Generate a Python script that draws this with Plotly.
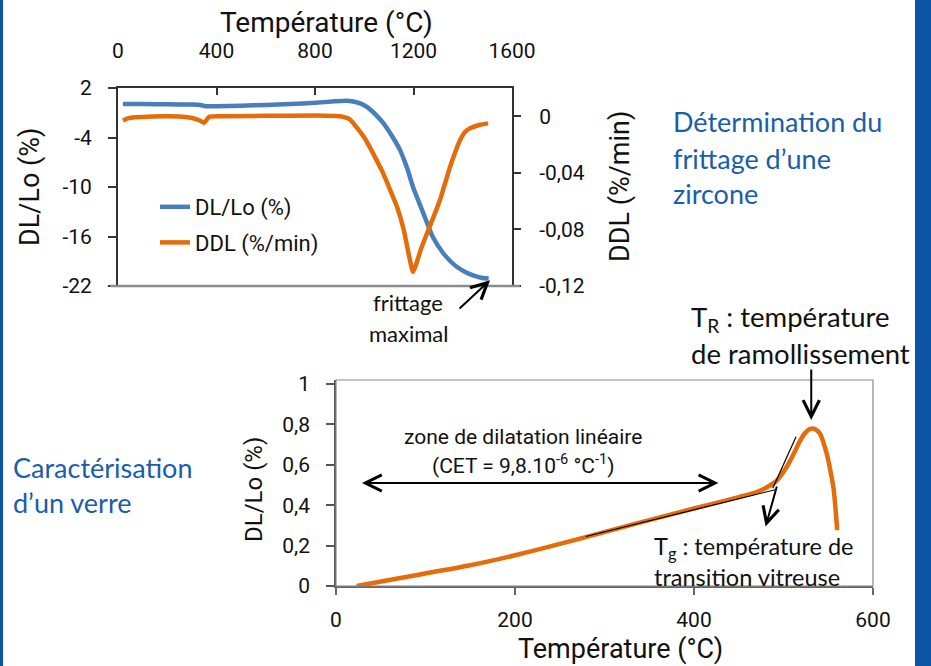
import plotly.graph_objects as go

W, H = 931, 666

# ---------------- data : top chart (zircone sintering) ----------------
temp_dl = [20, 100, 200, 300, 335, 350, 365, 400, 500, 600, 700, 800, 880, 930, 965,
           1000, 1030, 1055, 1076, 1110, 1145, 1175, 1198, 1239, 1279, 1320, 1350,
           1377, 1410, 1442, 1475, 1505]
dl_lo = [0.05, 0.05, 0.02, 0.0, -0.05, -0.18, -0.22, -0.2, -0.15, -0.05, 0.05, 0.2,
         0.38, 0.45, 0.3, -0.1, -0.75, -1.5, -2.2, -3.7, -5.5, -7.8, -10.0, -13.1, -16.1,
         -18.0, -19.0, -19.7, -20.3, -20.7, -21.0, -21.1]

temp_ddl = [20, 40, 70, 120, 200, 260, 300, 330, 350, 358, 370, 450, 600, 800, 900,
            940, 970, 1000, 1023, 1050, 1076, 1105, 1133, 1160, 1180, 1198, 1212,
            1230, 1259, 1308, 1348, 1389, 1410, 1430, 1470, 1503]
ddl = [-0.003, -0.0015, -0.0007, -0.0003, 0.0, -0.0003, -0.0012, -0.0028, -0.0045,
       -0.003, -0.0003, 0.0, 0.0003, 0.0005, 0.0, -0.002, -0.008, -0.015, -0.022,
       -0.031, -0.040, -0.052, -0.064, -0.080, -0.097, -0.110, -0.104, -0.094,
       -0.081, -0.059, -0.036, -0.017, -0.011, -0.0085, -0.006, -0.005]

top_x_ticks = [0, 400, 800, 1200, 1600]
top_x_labels = ["0", "400", "800", "1200", "1600"]
left_y_ticks = [-22, -16, -10, -4, 2]
left_y_labels = ["-22", "-16", "-10", "-4", "2"]
right_y_ticks = [-0.12, -0.08, -0.04, 0]
right_y_labels = ["-0,12", "-0,08", "-0,04", "0"]

# ---------------- data : bottom chart (glass) ----------------
temp_glass = [23, 72, 147, 200, 279, 336, 401, 450, 470, 482, 492, 500, 506, 512,
              518, 524, 530, 536, 541, 548, 552, 556, 560]
dl_glass = [0.0, 0.04, 0.1, 0.152, 0.242, 0.31, 0.385, 0.44, 0.465, 0.49, 0.52,
            0.565, 0.608, 0.66, 0.715, 0.757, 0.778, 0.775, 0.752, 0.66, 0.58,
            0.48, 0.277]
tangent_lin_t = [279, 492]
tangent_lin_v = [0.245, 0.478]
tangent_tg_t = [488, 514]
tangent_tg_v = [0.484, 0.739]

bot_x_ticks = [0, 200, 400, 600]
bot_x_labels = ["0", "200", "400", "600"]
bot_y_ticks = [0, 0.2, 0.4, 0.6, 0.8, 1]
bot_y_labels = ["0", "0,2", "0,4", "0,6", "0,8", "1"]

BLUE = "#4A7EBB"
ORANGE = "#E46C0A"
TXT_BLUE = "#1A5DAA"
DIN = "Roboto"
CAL = "Lato"


def px(x):
    return x / W


def py(y):
    return 1 - y / H


fig = go.Figure()
fig.add_trace(go.Scatter(x=temp_dl, y=dl_lo, name="DL/Lo (%)", mode="lines",
                         line=dict(color=BLUE, width=4.5, shape="spline", smoothing=0.6),
                         xaxis="x", yaxis="y", legendgroup="a"))
fig.add_trace(go.Scatter(x=temp_ddl, y=ddl, name="DDL (%/min)", mode="lines",
                         line=dict(color=ORANGE, width=4.5, shape="spline", smoothing=0.5),
                         xaxis="x", yaxis="y2", legendgroup="b"))
fig.add_trace(go.Scatter(x=temp_glass, y=dl_glass, mode="lines", showlegend=False,
                         line=dict(color=ORANGE, width=4.5, shape="spline", smoothing=0.7),
                         xaxis="x2", yaxis="y3"))
fig.add_trace(go.Scatter(x=tangent_lin_t, y=tangent_lin_v, mode="lines", showlegend=False,
                         line=dict(color="black", width=1.2), xaxis="x2", yaxis="y3"))
fig.add_trace(go.Scatter(x=tangent_tg_t, y=tangent_tg_v, mode="lines", showlegend=False,
                         line=dict(color="black", width=1.2), xaxis="x2", yaxis="y3"))

tickfont = dict(family=DIN, size=21, color="#111")

fig.update_layout(
    width=W, height=H, autosize=False,
    margin=dict(l=0, r=0, t=0, b=0, pad=0, autoexpand=False),
    paper_bgcolor="white", plot_bgcolor="rgba(0,0,0,0)",
    showlegend=True,
    legend=dict(x=px(155), y=py(186), xanchor="left", yanchor="top",
                font=dict(family=DIN, size=22, color="#111"),
                bgcolor="rgba(0,0,0,0)", tracegroupgap=4, traceorder="grouped"),
    xaxis=dict(domain=[px(118), px(512)], range=[0, 1600], side="top", anchor="y",
               showline=True, linecolor="#333", linewidth=2, mirror=False, automargin=False,
               ticks="inside", ticklen=7, tickcolor="#333", tickwidth=1.5,
               tickvals=top_x_ticks, ticktext=top_x_labels, tickfont=tickfont,
               ticklabelstandoff=20, showgrid=False, zeroline=False),
    yaxis=dict(domain=[py(286), py(88)], range=[-22, 2], anchor="x", automargin=False,
               showline=True, linecolor="#333", linewidth=2,
               ticks="outside", ticklen=8, tickcolor="#333", tickwidth=1.5,
               tickvals=left_y_ticks, ticktext=left_y_labels, tickfont=tickfont,
               ticklabelstandoff=12, showgrid=False, zeroline=False),
    yaxis2=dict(range=[-0.12, 0.02], overlaying="y", side="right", anchor="x",
                showline=True, linecolor="#333", linewidth=2, automargin=False,
                ticks="outside", ticklen=7, tickcolor="#333", tickwidth=1.5,
                tickvals=right_y_ticks, ticktext=right_y_labels, tickfont=tickfont,
                ticklabelstandoff=14, showgrid=False, zeroline=False),
    yaxis4=dict(range=[-0.12, 0.02], overlaying="y", side="right", anchor="x",
                showline=False, ticks="inside", ticklen=7, tickcolor="#333", tickwidth=1.5,
                automargin=False,
                tickvals=right_y_ticks, showticklabels=False, showgrid=False, zeroline=False),
    xaxis2=dict(domain=[px(336), px(873)], range=[0, 600], anchor="y3", automargin=False,
                showline=True, linecolor="#666", linewidth=1.5,
                ticks="outside", ticklen=7, tickcolor="#666", tickwidth=1.5,
                tickvals=bot_x_ticks, ticktext=bot_x_labels, tickfont=tickfont,
                ticklabelstandoff=7, showgrid=False, zeroline=False),
    yaxis3=dict(domain=[py(586), py(380)], range=[0, 1.02], anchor="x2", automargin=False,
                showline=True, linecolor="#555", linewidth=1.5,
                ticks="outside", ticklen=8, tickcolor="#555", tickwidth=1.5,
                tickvals=bot_y_ticks, ticktext=bot_y_labels, tickfont=tickfont,
                ticklabelstandoff=12, showgrid=False, zeroline=False),
)

shapes = [
    # side bands
    dict(type="rect", xref="paper", yref="paper", x0=0, x1=px(3), y0=0, y1=1,
         fillcolor="#0B55A4", line=dict(width=0), layer="below"),
    dict(type="rect", xref="paper", yref="paper", x0=px(915), x1=1, y0=0, y1=1,
         fillcolor="#0B55A4", line=dict(width=0), layer="below"),
    # bottom border of top chart
    dict(type="line", xref="x domain", yref="y domain", x0=-0.02, x1=1.02, y0=0, y1=0,
         line=dict(color="#8c8c8c", width=2.5)),
    # frame of bottom chart
    dict(type="rect", xref="x2 domain", yref="y3 domain", x0=0, x1=1, y0=0, y1=1,
         line=dict(color="#888", width=1.2)),
]
fig.update_layout(shapes=shapes)

ann = []


def text(x, y, s, size, family=DIN, color="#111", xanchor="center", angle=0):
    ann.append(dict(x=px(x), y=py(y), xref="paper", yref="paper", text=s, showarrow=False,
                    font=dict(family=family, size=size, color=color), xanchor=xanchor,
                    yanchor="middle", textangle=angle))


# axis titles
text(326, 22, "Température (°C)", 28)
text(30, 187, "DL/Lo (%)", 27, angle=-90)
text(620, 187, "DDL (%/min)", 27, angle=-90)
text(620, 649, "Température (°C)", 27)
text(254, 490, "DL/Lo (%)", 24, angle=-90)

# side blue captions
text(671, 122, "Détermination du", 27, CAL, TXT_BLUE, "left")
text(671, 158, "frittage d’une", 27, CAL, TXT_BLUE, "left")
text(671, 193, "zircone", 27, CAL, TXT_BLUE, "left")
text(11, 467, "Caractérisation", 27, CAL, TXT_BLUE, "left")
text(11, 502, "d’un verre", 27, CAL, TXT_BLUE, "left")

# chart comments
text(408, 302, "frittage", 22, CAL)
text(409, 333, "maximal", 22, CAL)
text(689, 319, "T<sub>R</sub> : température", 27.5, CAL, xanchor="left")
text(689, 353, "de ramollissement", 27.5, CAL, xanchor="left")
text(652, 548, "T<sub>g</sub> : température de", 23.5, CAL, xanchor="left")
text(652, 577, "transition vitreuse", 23.5, CAL, xanchor="left")
text(523, 437, "zone de dilatation linéaire", 21)
text(523, 464, "(CET = 9,8.10<sup>-6</sup> °C<sup>-1</sup>)", 21)


def arrow(x, y, axv, ayv, xr, yr, both=False):
    d = dict(x=x, y=y, ax=axv, ay=ayv, xref=xr, yref=yr, axref=xr, ayref=yr, text="",
             showarrow=True, arrowhead=5, arrowsize=1.6, arrowwidth=2, arrowcolor="black",
             standoff=0)
    if both:
        d.update(arrowside="end+start", startarrowhead=5, startarrowsize=1.6, startstandoff=0)
    ann.append(d)


arrow(1511, -21.3, 1381, -24.9, "x", "y")
arrow(29, 0.51, 429, 0.51, "x2", "y3", both=True)
arrow(531, 0.822, 531, 1.079, "x2", "y3")
arrow(480, 0.294, 493, 0.5, "x2", "y3")

fig.update_layout(annotations=ann)
fig.write_html("out.html",
               config={"displayModeBar": False},
               post_script="document.body.style.margin='0px';"
                           "document.body.style.overflow='hidden';")
